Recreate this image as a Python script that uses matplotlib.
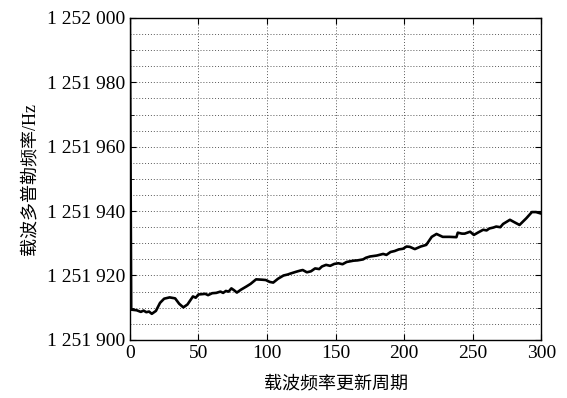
import numpy as np
import matplotlib.pyplot as plt
from matplotlib.ticker import MultipleLocator, FuncFormatter

plt.rcParams['font.family'] = ['Liberation Serif', 'Noto Sans CJK SC']

# carrier Doppler estimate per update period
period = [0, 1, 5, 8, 10, 12, 14, 16, 19, 22, 25, 29, 33, 36, 39, 42, 46, 48, 50, 55,
          57, 60, 63, 66, 68, 70, 72, 74, 76, 78, 81, 85, 88, 92, 96, 99, 102, 104.5,
          108, 112, 115, 117, 121.5, 124, 126, 129, 132, 135, 138, 140, 143, 146, 149,
          152, 155, 158, 163, 166, 170, 172, 175, 180, 184.6, 187, 190, 193, 196, 199,
          201.7, 204, 207.7, 212, 216, 220, 223.5, 228, 233, 238, 239, 242, 244, 248,
          250.7, 254, 257.5, 260, 262, 265, 267, 270, 272, 277, 280, 284, 289, 293,
          296, 300]
doppler = [1252000, 1251909.4, 1251909.2, 1251908.7, 1251909.1, 1251908.6, 1251908.8,
           1251908.1, 1251909.0, 1251911.5, 1251912.8, 1251913.2, 1251912.9, 1251911.2,
           1251910.1, 1251911.0, 1251913.5, 1251913.1, 1251914.1, 1251914.3, 1251913.9,
           1251914.5, 1251914.6, 1251915.0, 1251914.6, 1251915.2, 1251915.0, 1251916.0,
           1251915.4, 1251914.7, 1251915.6, 1251916.6, 1251917.4, 1251918.8, 1251918.7,
           1251918.6, 1251918.0, 1251917.8, 1251919.0, 1251920.0, 1251920.3, 1251920.6,
           1251921.2, 1251921.5, 1251921.7, 1251921.0, 1251921.3, 1251922.2, 1251922.0,
           1251922.8, 1251923.3, 1251923.0, 1251923.6, 1251923.8, 1251923.5, 1251924.2,
           1251924.6, 1251924.7, 1251925.0, 1251925.5, 1251925.9, 1251926.2, 1251926.7,
           1251926.4, 1251927.3, 1251927.6, 1251928.1, 1251928.3, 1251929.0, 1251928.9,
           1251928.2, 1251929.0, 1251929.5, 1251932.0, 1251932.9, 1251932.0, 1251932.0,
           1251931.9, 1251933.3, 1251933.0, 1251933.0, 1251933.6, 1251932.6, 1251933.4,
           1251934.2, 1251934.0, 1251934.6, 1251934.9, 1251935.2, 1251935.0, 1251936.0,
           1251937.3, 1251936.6, 1251935.7, 1251937.8, 1251939.7, 1251939.7, 1251939.2]

fig = plt.figure(figsize=(5.67, 3.98), dpi=100)
ax = fig.add_axes([0.229, 0.146, 0.726, 0.809])

# dotted grid, every 5 Hz / every 50 periods
for yy in np.arange(1251905, 1252000, 5):
    ax.axhline(yy, color='0.35', lw=0.7, ls=(0, (1, 2)), zorder=1)
for xx in np.arange(50, 300, 50):
    ax.axvline(xx, color='0.35', lw=0.7, ls=(0, (1, 2)), zorder=1)

ax.plot(period, doppler, color='black', lw=1.9, zorder=3)

ax.set_xlim(0, 300)
ax.set_ylim(1251900, 1252000)
ax.xaxis.set_major_locator(MultipleLocator(50))
ax.yaxis.set_major_locator(MultipleLocator(20))
ax.yaxis.set_minor_locator(MultipleLocator(10))
ax.yaxis.set_major_formatter(FuncFormatter(lambda v, p: '{:,.0f}'.format(v).replace(',', ' ')))
ax.tick_params(which='both', direction='in', top=True, right=True, labelsize=14)
ax.tick_params(which='major', length=4)
ax.tick_params(which='minor', length=3)
for s in ax.spines.values():
    s.set_linewidth(1.0)

ax.set_xlabel('载波频率更新周期', fontsize=13, labelpad=10)
ax.set_ylabel('载波多普勒频率/Hz', fontsize=13, labelpad=6)

fig.savefig('out.png', dpi=100)
